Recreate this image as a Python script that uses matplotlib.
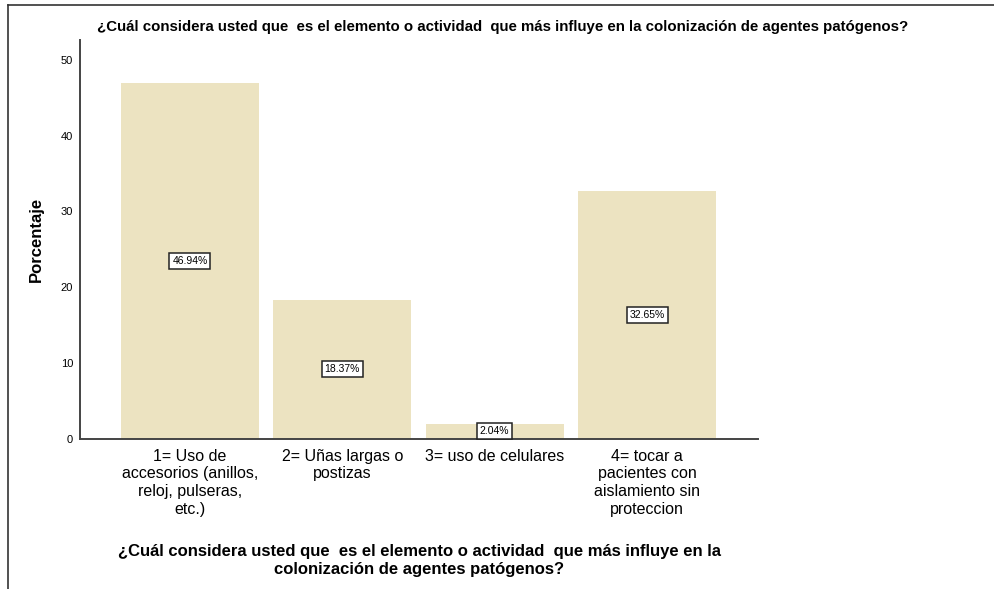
import matplotlib.pyplot as plt
from matplotlib import font_manager
from matplotlib.lines import Line2D

# Arial-like font, fall back to DejaVu if missing
def pick_font(names):
    for n in names:
        try:
            font_manager.findfont(n, fallback_to_default=False)
            return n
        except Exception:
            pass
    return 'DejaVu Sans'

fam = pick_font(['Liberation Sans', 'Arial'])
plt.rcParams['font.family'] = [fam, 'DejaVu Sans']

# data
categories = ['1= Uso de\naccesorios (anillos,\nreloj, pulseras,\netc.)',
              '2= Uñas largas o\npostizas',
              '3= uso de celulares',
              '4= tocar a\npacientes con\naislamiento sin\nproteccion']
percentages = [46.94, 18.37, 2.04, 32.65]
pct_labels = ['46.94%', '18.37%', '2.04%', '32.65%']
y_ticks = [0, 10, 20, 30, 40, 50]

question = '¿Cuál considera usted que  es el elemento o actividad  que más influye en la colonización de agentes patógenos?'
xlabel = '¿Cuál considera usted que  es el elemento o actividad  que más influye en la\ncolonización de agentes patógenos?'

fig = plt.figure(figsize=(9.95, 5.89), dpi=100)
ax = fig.add_axes([80/995, 150/589, 678/995, 399/589])

x = list(range(len(categories)))
ax.bar(x, percentages, width=0.905, color='#ECE3C1', edgecolor='none', zorder=2)

for xi, v, lab in zip(x, percentages, pct_labels):
    ax.text(xi, v / 2, lab, ha='center', va='center', fontsize=7.5,
            bbox=dict(boxstyle='square,pad=0.28', fc='white', ec='#222222', lw=1.1), zorder=3)

ax.set_xlim(-0.721, 3.728)
ax.set_ylim(0, 52.6)
ax.set_yticks(y_ticks)
ax.set_yticklabels([str(t) for t in y_ticks], fontsize=8)
ax.set_xticks(x)
ax.set_xticklabels(categories, fontsize=11.5, linespacing=1.22)
ax.tick_params(axis='both', length=0)
ax.tick_params(axis='y', pad=5)
ax.tick_params(axis='x', pad=7)

for s in ['top', 'right']:
    ax.spines[s].set_visible(False)
for s in ['left', 'bottom']:
    ax.spines[s].set_color('#444444')
    ax.spines[s].set_linewidth(1.4)

ax.set_ylabel('Porcentaje', fontsize=12, fontweight='bold', labelpad=12)
ax.set_xlabel(xlabel, fontsize=12, fontweight='bold', labelpad=20, linespacing=1.25)

fig.text(503/995, 1 - 27/589, question, ha='center', va='center', fontsize=10.8, fontweight='bold')

# frame edges (top and left)
fig.add_artist(Line2D([8/995, 1], [1 - 5/589, 1 - 5/589], transform=fig.transFigure, color='#333333', lw=1.2))
fig.add_artist(Line2D([8/995, 8/995], [0, 1 - 5/589], transform=fig.transFigure, color='#333333', lw=1.2))

fig.savefig('out.png', dpi=100)
